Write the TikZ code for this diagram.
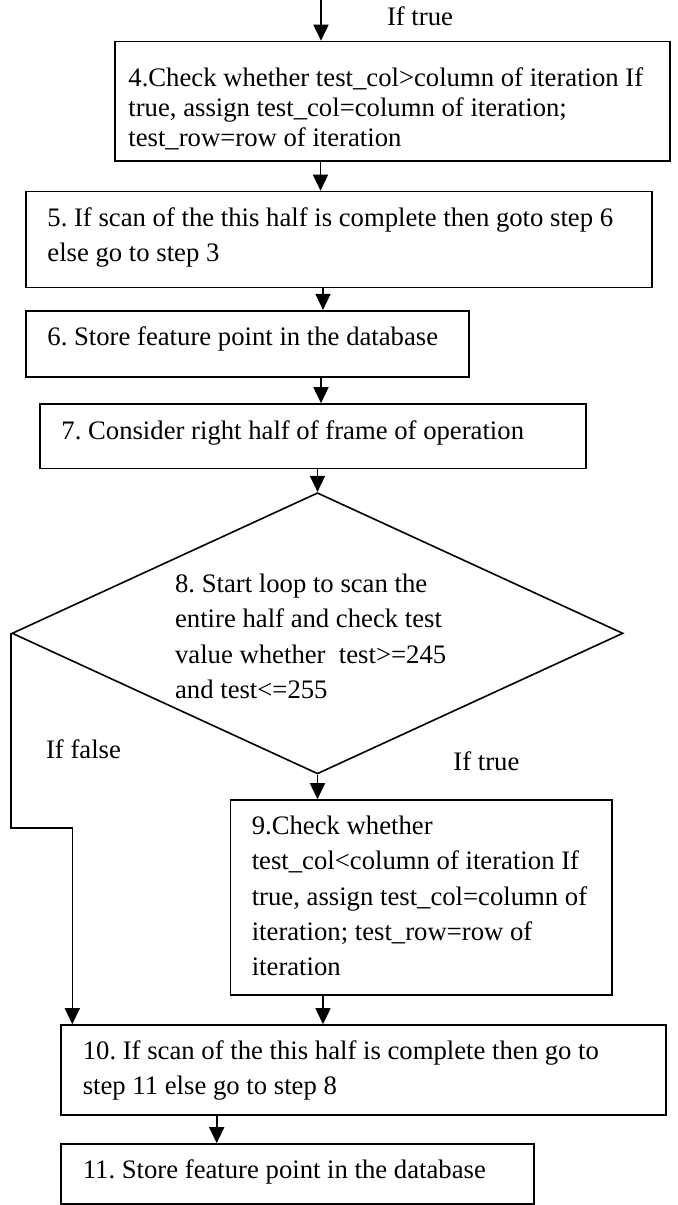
\documentclass[tikz,border=0pt]{standalone}
\usepackage{fontspec}
\setmainfont{Liberation Serif}
\usetikzlibrary{arrows.meta,fit,shapes.geometric}
\frenchspacing

% multi-line text block whose reference point is the first baseline
\newcommand\flowtext[2]{\parbox[t]{320pt}{\fontsize{13.35pt}{#1}\selectfont\raggedright #2}}

\tikzset{
  stepbox/.style={draw, line width=0.8pt, inner sep=0pt},
  decision/.style={draw, diamond, line width=0.8pt, inner sep=0pt},
  txt/.style={anchor=base west, inner sep=0pt},
  arr/.style={line width=0.8pt, -{Triangle[length=8pt,width=7.5pt]}}
}

\begin{document}
\begin{tikzpicture}[x=0.5pt, y=-0.5pt, font=\fontsize{13.35pt}{17.5pt}\selectfont]
\useasboundingbox (0,0) rectangle (678,1205);

% boxes
\node[stepbox, fit={(115,41.5) (670,161)}] (b4) {};
\node[stepbox, fit={(26,191.5) (652,287.5)}] (b5) {};
\node[stepbox, fit={(26,310.7) (469,376.7)}] (b6) {};
\node[stepbox, fit={(40,404) (586,468.3)}] (b7) {};
\node[decision, minimum width=305.5pt, minimum height=140.6pt] (d) at (317.5,633.3) {};
\node[stepbox, fit={(230.6,800) (612,995)}] (b9) {};
\node[stepbox, fit={(60.7,1025) (666,1115)}] (b10) {};
\node[stepbox, fit={(60.7,1144) (534,1204)}] (b11) {};

% texts
\node[anchor=base, inner sep=0pt] (ltop) at (420,25) {If true};
\node[txt] (t4) at (128,86) {\flowtext{15.15pt}{4.Check whether test\_col>column of iteration If\\
true, assign test\_col=column of iteration;\\
test\_row=row of iteration}};
\node[txt] (t5) at (47,226.7) {\flowtext{17.5pt}{5. If scan of the this half is complete then goto step 6\\
else go to step 3}};
\node[txt] (t6) at (47,345) {6. Store feature point in the database};
\node[txt] (t7) at (61,439.3) {7. Consider right half of frame of operation};
\node[txt] (t8) at (174.7,592.7) {\flowtext{17.6pt}{8. Start loop to scan the\\
entire half and check test\\
value whether\ \ test>=245\\
and test<=255}};
\node[txt] (lfalse) at (45.7,758) {If false};
\node[txt] (ltrue) at (453,770.7) {If true};
\node[txt] (t9) at (251.4,834.3) {\flowtext{17.7pt}{9.Check whether\\
test\_col<column of iteration If\\
true, assign test\_col=column of\\
iteration; test\_row=row of\\
iteration}};
\node[txt] (t10) at (82.4,1059.3) {\flowtext{17.5pt}{10. If scan of the this half is complete then go to\\
step 11 else go to step 8}};
\node[txt] (t11) at (82.4,1178.3) {11. Store feature point in the database};

% connector columns
\coordinate (entry) at (321,0);
\coordinate (c45) at (320.5,0);
\coordinate (c56) at (323,0);
\coordinate (c67) at (321,0);
\coordinate (c910) at (323,0);
\coordinate (c1011) at (216.7,0);
\coordinate (fk) at (72.3,827.7);

% connectors
\draw[arr] (entry) -- (entry |- b4.north);
\draw[arr] (c45 |- b4.south) -- (c45 |- b5.north);
\draw[arr] (c56 |- b5.south) -- (c56 |- b6.north);
\draw[arr] (c67 |- b6.south) -- (c67 |- b7.north);
\draw[arr] (d.north |- b7.south) -- (d.north);
\draw[arr] (d.south) -- (d.south |- b9.north);
\draw[arr] (d.west) -- (d.west |- fk) -- (fk) -- (fk |- b10.north);
\draw[arr] (c910 |- b9.south) -- (c910 |- b10.north);
\draw[arr] (c1011 |- b10.south) -- (c1011 |- b11.north);
\end{tikzpicture}
\end{document}
